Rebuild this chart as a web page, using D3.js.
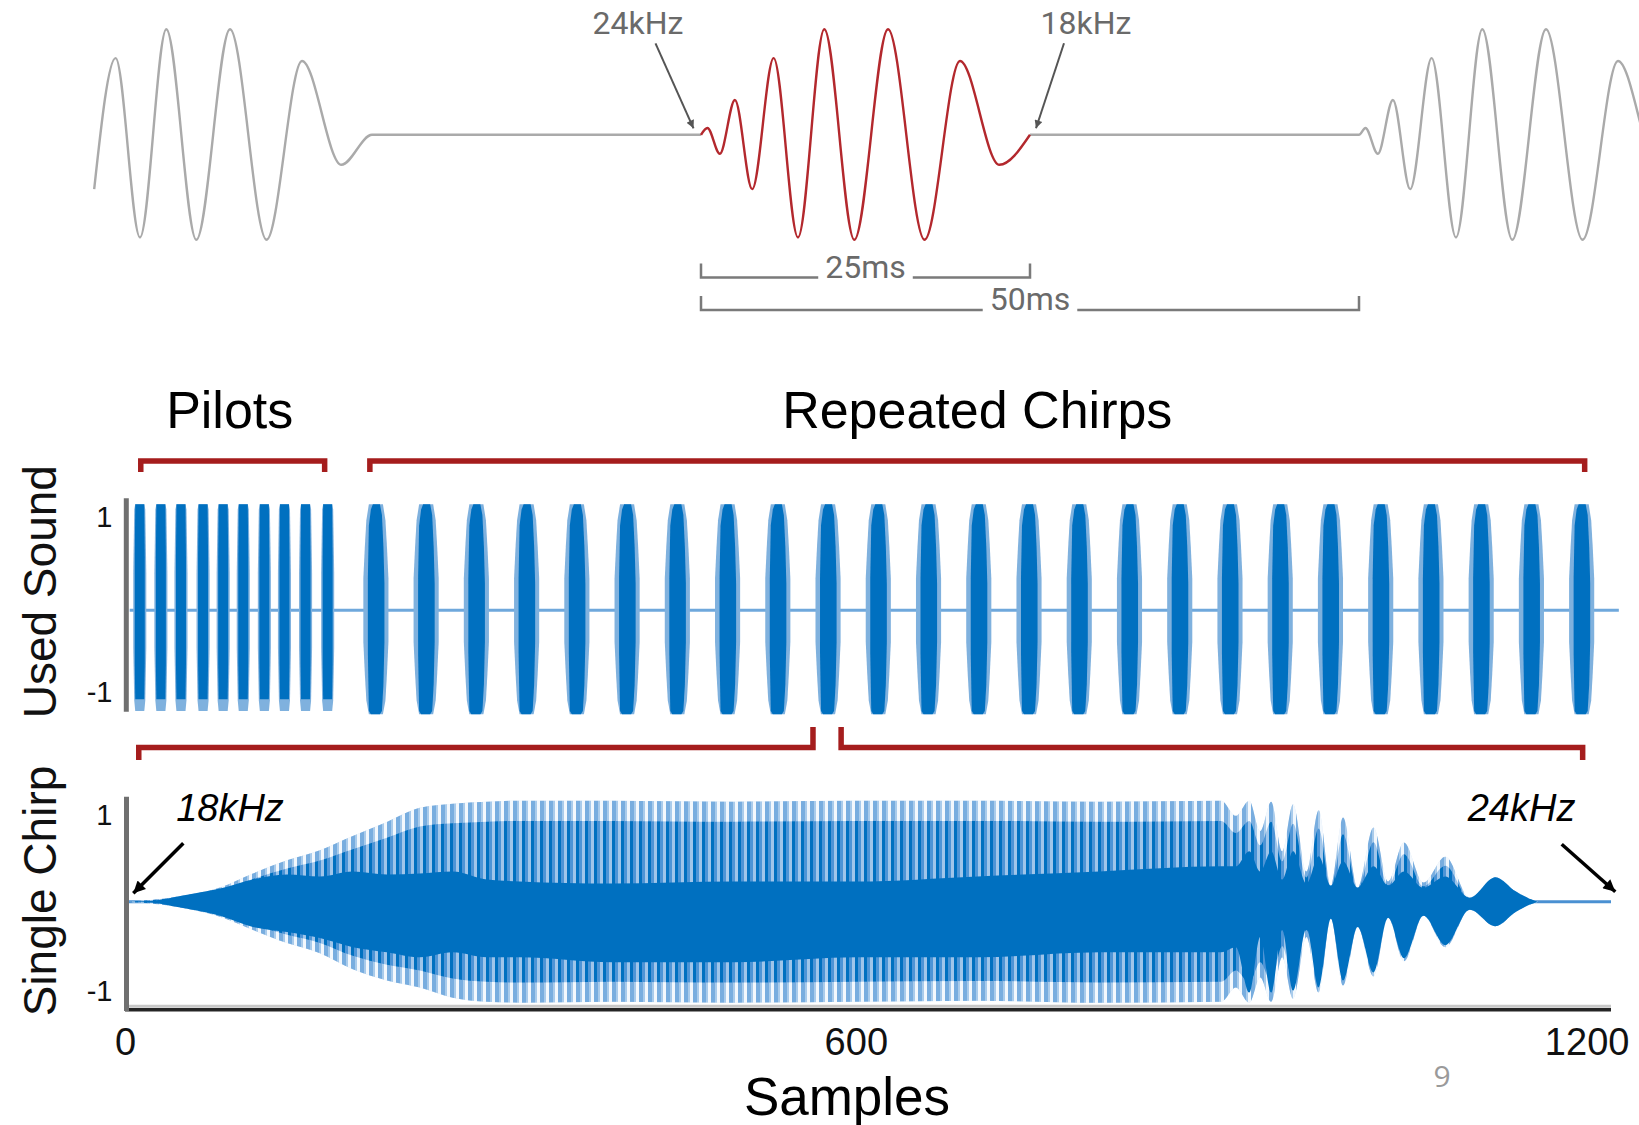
<!DOCTYPE html>
<html><head><meta charset="utf-8">
<script src="https://cdn.jsdelivr.net/npm/d3@7"></script>
<style>
html,body{margin:0;padding:0;background:#fff;}
svg{display:block;}
</style></head><body>
<svg id="c" width="1639" height="1125"></svg>
<script>
// ================= DATA =================
// Top diagram: extrema of one chirp (ms from chirp start, normalised value)
const chirpTimes  = [0, 0.49, 1.43, 2.58, 3.89, 5.52, 7.37, 9.37, 11.65, 14.21, 16.99, 19.68, 22.67, 25];
const chirpValues = [0, 0.064, -0.18, 0.33, -0.515, 0.727, -0.973, 1.0, -0.995, 1.0, -0.995, 0.70, -0.284, 0];
const chirpLength = 25;   // ms
const chirpPeriod = 50;   // ms
const topFreqLabels = ["24kHz", "18kHz"];
const durationSpans = [[0, 25], [0, 50]];
const durationLabels = ["25ms", "50ms"];

// "Used Sound" panel (time in ms)
const pilotCenters = [14, 35, 55, 77, 97, 117, 138, 158, 179, 201];
const chirpCenters = [249, 299, 349, 399, 449, 499, 549, 599, 649, 699, 749, 799, 849,
                      899, 949, 999, 1049, 1099, 1149, 1199, 1249, 1299, 1349, 1399, 1449];
const soundStart = 4, soundEnd = 1486;
// burst envelopes: [offset ms, upper amp, lower amp]
const pilotOuter = [[-6.5,0.35,0.35],[-5.5,0.95,0.85],[-4.5,1.0,0.95],[4.5,1.0,0.95],[5.5,0.95,0.85],[6.5,0.35,0.35]];
const pilotCore  = [[-5,0.5,0.5],[-4.5,1.0,0.84],[4.5,1.0,0.84],[5,0.5,0.5]];
const burstOuter = [[-12.5,0.3,0.3],[-11,0.6,0.6],[-9.5,0.85,0.85],[-7,1.0,0.98],[7,1.0,0.98],[9.5,0.85,0.85],[11,0.6,0.6],[12.5,0.3,0.3]];
const burstCore  = [[-8,0.3,0.4],[-7,0.8,0.95],[-5,0.95,0.98],[-3,1.0,0.98],[4,1.0,0.98],[6,0.9,0.95],[7.5,0.6,0.7],[8.5,0.25,0.3]];
const sectionLabels = ["Pilots", "Repeated Chirps"];
const sectionSpans = [[15, 198], [243, 1452]];
const zoomSpans = [[13, 684], [712, 1450]];
const yTicks = [-1, 1];

// "Single Chirp" panel (samples)
const sampleTicks = [0, 600, 1200];
const sampleMax = 1220;
const envSamples = [0, 23, 42, 78, 105, 133, 160, 187, 215, 242, 269, 297, 324, 400, 500, 600, 700, 800,
                    900, 912, 923, 932, 941, 950, 959, 970, 980, 990, 1000, 1012, 1025, 1037, 1050, 1066, 1084, 1104, 1125, 1142, 1153, 1160];
const outerHiAmp = [0, 0.02, 0.05, 0.14, 0.28, 0.41, 0.51, 0.65, 0.79, 0.93, 0.97, 0.99, 1.0, 1.0, 0.99, 1.0, 1.0, 0.99,
                    1.0, 0.85, 1.0, 0.70, 0.99, 0.50, 0.965, 0.30, 0.905, 0.16, 0.834, 0.14, 0.735, 0.20, 0.586, 0.19, 0.446, 0.04, 0.243, 0.10, 0.03, 0];
const outerLoAmp = [0, 0.02, 0.05, 0.15, 0.28, 0.41, 0.51, 0.67, 0.78, 0.85, 0.95, 0.99, 1.0, 0.99, 1.0, 0.99, 0.98, 1.0,
                    0.99, 0.85, 1.0, 0.75, 0.99, 0.55, 0.96, 0.35, 0.90, 0.17, 0.83, 0.25, 0.74, 0.16, 0.59, 0.14, 0.45, 0.08, 0.243, 0.10, 0.03, 0];
const coreHiAmp  = [0, 0.01, 0.05, 0.13, 0.22, 0.27, 0.25, 0.30, 0.27, 0.28, 0.30, 0.22, 0.20, 0.18, 0.20, 0.20, 0.25, 0.30,
                    0.35, 0.35, 0.50, 0.30, 0.50, 0.22, 0.50, 0.18, 0.45, 0.16, 0.40, 0.14, 0.35, 0.16, 0.30, 0.14, 0.25, 0.04, 0.243, 0.10, 0.03, 0];
const coreLoAmp  = [0, 0.01, 0.05, 0.14, 0.25, 0.30, 0.36, 0.45, 0.50, 0.55, 0.50, 0.55, 0.55, 0.60, 0.60, 0.55, 0.55, 0.50,
                    0.50, 0.45, 0.90, 0.35, 0.90, 0.28, 0.88, 0.26, 0.85, 0.17, 0.78, 0.25, 0.70, 0.16, 0.56, 0.14, 0.43, 0.08, 0.243, 0.10, 0.03, 0];
const chirpFreqLabels = ["18kHz", "24kHz"];

// ================= DRAWING =================
const svg = d3.select("#c");
const SANS = "'Liberation Sans', Arial, sans-serif";
const BLUE = "#0070c0", LIGHTBLUE = "#7fb1de", PALEBLUE = "#d9e8f6";
const RED = "#a51d1d";

const defs = svg.append("defs");
defs.append("marker").attr("id","ahGray").attr("viewBox","0 0 10 10").attr("refX",10).attr("refY",5)
  .attr("markerWidth",11).attr("markerHeight",8).attr("markerUnits","userSpaceOnUse").attr("orient","auto")
  .append("path").attr("d","M0,0L10,5L0,10z").attr("fill","#555");
defs.append("marker").attr("id","ahBlack").attr("viewBox","0 0 10 10").attr("refX",10).attr("refY",5)
  .attr("markerWidth",16).attr("markerHeight",12).attr("markerUnits","userSpaceOnUse").attr("orient","auto")
  .append("path").attr("d","M0,0L10,5L0,10z").attr("fill","#000");
function stripePattern(id, parts) {
  const w = d3.sum(parts, p => p[0]);
  const p = defs.append("pattern").attr("id", id).attr("width", w).attr("height", 10)
    .attr("patternUnits","userSpaceOnUse");
  let x = 0;
  parts.forEach(q => { p.append("rect").attr("x", x).attr("width", q[0]).attr("height", 10).attr("fill", q[1]); x += q[0]; });
}
stripePattern("stripesLight", [[4, "#78addf"], [2, "#a9cbeb"], [3, "#f3f8fd"]]);
stripePattern("stripesDark",  [[3, BLUE], [3, "#4d94d6"], [3, "#9fc5ea"]]);

// ---------- Top diagram ----------
const xTop = d3.scaleLinear().domain([0, chirpLength]).range([701, 1030]);
const yTop = d3.scaleLinear().domain([-1, 1]).range([240.3, 29.3]);
const topLine = d3.line().x(d => xTop(d[0])).y(d => yTop(d[1])).curve(d3.curveMonotoneX);
const chirpPts = chirpTimes.map((t, i) => [t, chirpValues[i]]);
const shifted = (dt) => chirpPts.map(p => [p[0] + dt, p[1]]);
const prevPts = shifted(-chirpPeriod).filter(p => xTop(p[0]) >= 90).concat([[0, 0]]);
const nextPts = [[chirpLength, 0]].concat(shifted(chirpPeriod));
const topG = svg.append("g");
[prevPts, nextPts].forEach(pts => topG.append("path").attr("d", topLine(pts))
  .attr("fill","none").attr("stroke","#aaaaaa").attr("stroke-width",2.4));
topG.append("path").attr("d", topLine(chirpPts)).attr("fill","none")
  .attr("stroke","#b3282d").attr("stroke-width",2.4);

// frequency labels and arrows
const topArrowTargets = [[0, -7.5, -6.5, -38, -85], [chirpLength, 6, -6.5, 28, -85]];
const topLabelX = [638, 1086];
topFreqLabels.forEach((lab, i) => {
  const a = topArrowTargets[i];
  const tx = xTop(a[0]) + a[1], ty = yTop(0) + a[2];
  topG.append("line").attr("x1", tx + a[3]).attr("y1", ty + a[4])
    .attr("x2", tx).attr("y2", ty).attr("stroke","#555").attr("stroke-width",2)
    .attr("marker-end","url(#ahGray)");
  topG.append("text").attr("x", topLabelX[i]).attr("y", 34).attr("text-anchor","middle")
    .attr("font-family","Roboto, 'Liberation Sans', sans-serif").attr("font-size",32)
    .attr("fill","#6a6a6a").text(lab);
});

// duration brackets
const bracketY = [277.5, 310];
durationSpans.forEach((sp, i) => {
  const x0 = xTop(sp[0]), x1 = xTop(sp[1]), y = bracketY[i], cx = (x0 + x1) / 2;
  const t = topG.append("text").attr("x", cx).attr("y", y).attr("text-anchor","middle")
    .attr("font-family","Roboto, 'Liberation Sans', sans-serif").attr("font-size",32)
    .attr("fill","#6a6a6a").text(durationLabels[i]);
  const tw = t.node().getComputedTextLength();
  topG.append("path").attr("d", `M${x0},${y-14}V${y}H${cx - tw/2 - 7}M${cx + tw/2 + 7},${y}H${x1}V${y-14}`)
    .attr("fill","none").attr("stroke","#7a7a7a").attr("stroke-width",2.5);
});

// ---------- Used Sound panel ----------
const usX = d3.scaleLinear().domain([0, 1500]).range([125.7, 1632.9]);
const usY = d3.scaleLinear().domain([-1, 1]).range([716.3, 504.3]);
const usTickY = d3.scaleLinear().domain([-1, 1]).range([692, 517]);
const usG = svg.append("g");

usG.append("line").attr("x1", usX(soundStart)).attr("x2", usX(soundEnd))
  .attr("y1", usY(0)).attr("y2", usY(0)).attr("stroke","#6fa8dc").attr("stroke-width",3);

const burstArea = (c) => d3.area().x(d => usX(c + d[0])).y0(d => usY(-d[2])).y1(d => usY(d[1]));
pilotCenters.forEach(c => {
  usG.append("path").attr("d", burstArea(c)(pilotOuter)).attr("fill", LIGHTBLUE);
  usG.append("path").attr("d", burstArea(c)(pilotCore)).attr("fill", BLUE);
});
chirpCenters.forEach(c => {
  usG.append("path").attr("d", burstArea(c)(burstOuter)).attr("fill", LIGHTBLUE);
  usG.append("path").attr("d", burstArea(c)(burstCore)).attr("fill", BLUE);
});

// axis
usG.append("line").attr("x1",126.3).attr("x2",126.3).attr("y1",498.3).attr("y2",711.7)
  .attr("stroke","#707070").attr("stroke-width",5);
const usAxis = usG.append("g").attr("transform","translate(115.5,0)")
  .call(d3.axisLeft(usTickY).tickValues(yTicks).tickSize(0).tickPadding(3).tickFormat(d => String(d)));
usAxis.select(".domain").remove();
usAxis.selectAll("text").attr("font-family", SANS).attr("font-size", 29).attr("fill","#111");

usG.append("text").attr("transform","translate(56,591.7) rotate(-90)").attr("text-anchor","middle")
  .attr("font-family", SANS).attr("font-size", 46).attr("fill","#111").text("Used Sound");

// section brackets + labels
sectionSpans.forEach((sp, i) => {
  const x0 = usX(sp[0]), x1 = usX(sp[1]);
  usG.append("path").attr("d", `M${x0},472V461H${x1}V472`).attr("fill","none")
    .attr("stroke", RED).attr("stroke-width", 5.5);
  usG.append("text").attr("x", (x0 + x1) / 2 - (i ? 0 : 3)).attr("y", 428).attr("text-anchor","middle")
    .attr("font-family", SANS).attr("font-size", 52).attr("fill","#000").text(sectionLabels[i]);
});
// zoom brackets
{
  const a = zoomSpans[0], b = zoomSpans[1];
  usG.append("path").attr("d", `M${usX(a[0])},760V747.5H${usX(a[1])}V727`).attr("fill","none")
    .attr("stroke", RED).attr("stroke-width", 5.5);
  usG.append("path").attr("d", `M${usX(b[0])},727V747.5H${usX(b[1])}V760`).attr("fill","none")
    .attr("stroke", RED).attr("stroke-width", 5.5);
}

// ---------- Single Chirp panel ----------
const scX = d3.scaleLinear().domain([0, sampleMax]).range([125, 1611]);
const scY = d3.scaleLinear().domain([-1, 1]).range([1002.7, 800.7]);
const scTickY = d3.scaleLinear().domain([-1, 1]).range([991.7, 815]);
const scG = svg.append("g");
const env = envSamples.map((s, i) => ({s, hiO: outerHiAmp[i], loO: outerLoAmp[i], hi: coreHiAmp[i], lo: coreLoAmp[i]}));

scG.append("line").attr("x1", scX(0)).attr("x2", scX(sampleMax)).attr("y1", scY(0)).attr("y2", scY(0))
  .attr("stroke","#4a90d2").attr("stroke-width",3);
const bandArea = (k) => d3.area().x(d => scX(d.s)).y0(d => scY(-d.loO * k)).y1(d => scY(d.hiO * k)).curve(d3.curveMonotoneX);
const coreArea = d3.area().x(d => scX(d.s)).y0(d => scY(-d.lo)).y1(d => scY(d.hi)).curve(d3.curveMonotoneX);
scG.append("path").attr("d", bandArea(1)(env)).attr("fill", PALEBLUE);
scG.append("path").attr("d", bandArea(1)(env)).attr("fill", "url(#stripesLight)");
scG.append("path").attr("d", bandArea(0.8)(env)).attr("fill", "url(#stripesDark)");
scG.append("path").attr("d", coreArea(env)).attr("fill", BLUE);

// axes
scG.append("line").attr("x1",125).attr("x2",1611).attr("y1",1006.3).attr("y2",1006.3)
  .attr("stroke","#c8c8c8").attr("stroke-width",3);
scG.append("line").attr("x1",125).attr("x2",1611).attr("y1",1009.8).attr("y2",1009.8)
  .attr("stroke","#252525").attr("stroke-width",3.5);
scG.append("line").attr("x1",126.5).attr("x2",126.5).attr("y1",796.7).attr("y2",1011)
  .attr("stroke","#707070").attr("stroke-width",5);
const scAxisY = scG.append("g").attr("transform","translate(115.5,0)")
  .call(d3.axisLeft(scTickY).tickValues(yTicks).tickSize(0).tickPadding(3).tickFormat(d => String(d)));
scAxisY.select(".domain").remove();
scAxisY.selectAll("text").attr("font-family", SANS).attr("font-size", 29).attr("fill","#111");
const scAxisX = scG.append("g").attr("transform","translate(0,1010)")
  .call(d3.axisBottom(scX).tickValues(sampleTicks).tickSize(0).tickPadding(18).tickFormat(d => String(d)));
scAxisX.select(".domain").remove();
scAxisX.selectAll("text").attr("font-family", SANS).attr("font-size", 38).attr("fill","#111");

scG.append("text").attr("transform","translate(56,891) rotate(-90)").attr("text-anchor","middle")
  .attr("font-family", SANS).attr("font-size", 46).attr("fill","#111").text("Single Chirp");
scG.append("text").attr("x", 847).attr("y", 1115).attr("text-anchor","middle")
  .attr("font-family", SANS).attr("font-size", 53).attr("fill","#000").text("Samples");

// frequency annotations
const chirpArrows = [[0, 8.3, -8.4, 50, -50], [sampleMax, 4.3, -10, -53.6, -47.4]];
const chirpLabelX = [230, 1521.6];
chirpFreqLabels.forEach((lab, i) => {
  const a = chirpArrows[i];
  const tx = scX(a[0]) + a[1], ty = scY(0) + a[2];
  scG.append("line").attr("x1", tx + a[3]).attr("y1", ty + a[4]).attr("x2", tx).attr("y2", ty)
    .attr("stroke","#000").attr("stroke-width",3.5).attr("marker-end","url(#ahBlack)");
  scG.append("text").attr("x", chirpLabelX[i]).attr("y", 821).attr("text-anchor","middle")
    .attr("font-family", SANS).attr("font-style","italic").attr("font-size", 38).attr("fill","#000").text(lab);
});

// page number
svg.append("text").attr("x", 1442).attr("y", 1086.5).attr("text-anchor","middle")
  .attr("font-family","'Open Sans', 'Noto Sans', sans-serif").attr("font-size", 30).attr("fill","#9a9a9a").text("9");
</script>
</body></html>
